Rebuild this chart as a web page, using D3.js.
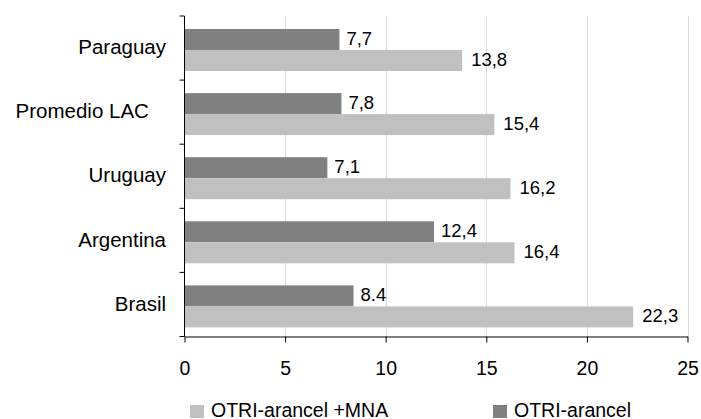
<!DOCTYPE html>
<html>
<head>
<meta charset="utf-8">
<script src="https://cdn.jsdelivr.net/npm/d3@7"></script>
<style>
  html, body { margin: 0; padding: 0; background: #fff; }
  svg { display: block; font-family: "Liberation Sans", Arial, sans-serif; }
</style>
</head>
<body>
<svg id="chart" width="701" height="419"></svg>
<script>
// Categories, top to bottom (trailing spaces keep the LAC label offset)
const categories = ["Paraguay", "Promedio LAC\u00a0\u00a0\u00a0", "Uruguay", "Argentina", "Brasil"];
// OTRI-arancel (dark bars)
const otriArancel = [7.7, 7.8, 7.1, 12.4, 8.4];
const otriArancelLabels = ["7,7", "7,8", "7,1", "12,4", "8.4"];
// OTRI-arancel +MNA (light bars)
const otriMna = [13.8, 15.4, 16.2, 16.4, 22.3];
const otriMnaLabels = ["13,8", "15,4", "16,2", "16,4", "22,3"];
const xTicks = [0, 5, 10, 15, 20, 25];

const seriesNames = ["OTRI-arancel", "OTRI-arancel +MNA"];
const colors = { "OTRI-arancel": "#808080", "OTRI-arancel +MNA": "#c0c0c0" };

const svg = d3.select("#chart");
const plot = { left: 184.5, right: 687.5, top: 16, bottom: 336.5 };

const x = d3.scaleLinear().domain([0, 25]).range([plot.left, plot.right]);
const y = d3.scaleBand().domain(categories).range([plot.top, plot.bottom]);
const ySub = d3.scaleBand().domain(seriesNames).range([13, 55]);

// vertical gridlines
svg.append("g")
  .selectAll("line")
  .data(xTicks.filter(d => d > 0))
  .join("line")
  .attr("x1", d => Math.round(x(d)) + 0.5)
  .attr("x2", d => Math.round(x(d)) + 0.5)
  .attr("y1", plot.top)
  .attr("y2", plot.bottom)
  .attr("stroke", "#dcdcdc")
  .attr("stroke-width", 1);

const rows = categories.map((c, i) => ({
  cat: c,
  values: [
    { name: "OTRI-arancel", value: otriArancel[i], label: otriArancelLabels[i], pad: 7 },
    { name: "OTRI-arancel +MNA", value: otriMna[i], label: otriMnaLabels[i], pad: 9 }
  ]
}));

const groups = svg.append("g")
  .selectAll("g")
  .data(rows)
  .join("g")
  .attr("transform", d => `translate(0,${y(d.cat)})`);

groups.selectAll("rect")
  .data(d => d.values)
  .join("rect")
  .attr("x", x(0))
  .attr("y", d => ySub(d.name))
  .attr("width", d => x(d.value) - x(0))
  .attr("height", ySub.bandwidth())
  .attr("fill", d => colors[d.name]);

groups.selectAll("text")
  .data(d => d.values)
  .join("text")
  .attr("x", d => x(d.value) + d.pad)
  .attr("y", d => ySub(d.name) + ySub.bandwidth() / 2 - 1)
  .attr("dy", "0.35em")
  .attr("font-size", "18.5px")
  .attr("fill", "#000")
  .text(d => d.label);

// x axis
const xAxis = svg.append("g")
  .attr("transform", `translate(0,${plot.bottom})`)
  .call(d3.axisBottom(x).tickValues(xTicks).tickSize(6).tickSizeOuter(0).tickPadding(19));
xAxis.select(".domain").attr("stroke", "#000");
xAxis.selectAll(".tick line").attr("stroke", "#000");
xAxis.selectAll(".tick text")
  .attr("font-size", "19.5px")
  .attr("font-family", "Liberation Sans, Arial, sans-serif")
  .attr("fill", "#000");

// y axis: ticks at category boundaries
const boundaries = categories.map(c => y(c)).concat([plot.bottom]);
svg.append("line")
  .attr("x1", plot.left).attr("x2", plot.left)
  .attr("y1", plot.top).attr("y2", plot.bottom)
  .attr("stroke", "#000");
svg.append("g")
  .selectAll("line")
  .data(boundaries)
  .join("line")
  .attr("x1", plot.left - 5).attr("x2", plot.left)
  .attr("y1", d => d).attr("y2", d => d)
  .attr("stroke", "#000");

svg.append("g")
  .selectAll("text")
  .data(categories)
  .join("text")
  .attr("x", plot.left - 18.5)
  .attr("y", d => y(d) + y.bandwidth() / 2 - 1)
  .attr("dy", "0.35em")
  .attr("text-anchor", "end")
  .attr("font-size", "20.5px")
  .attr("fill", "#000")
  .text(d => d);

// legend
const legendItems = [
  { name: "OTRI-arancel +MNA", x: 190 },
  { name: "OTRI-arancel", x: 493 }
];
const legend = svg.append("g")
  .selectAll("g")
  .data(legendItems)
  .join("g")
  .attr("transform", d => `translate(${d.x},405)`);
legend.append("rect")
  .attr("width", 14).attr("height", 13)
  .attr("fill", d => colors[d.name]);
legend.append("text")
  .attr("x", 21)
  .attr("y", 11.5)
  .attr("font-size", "19.5px")
  .attr("fill", "#000")
  .text(d => d.name);
</script>
</body>
</html>
